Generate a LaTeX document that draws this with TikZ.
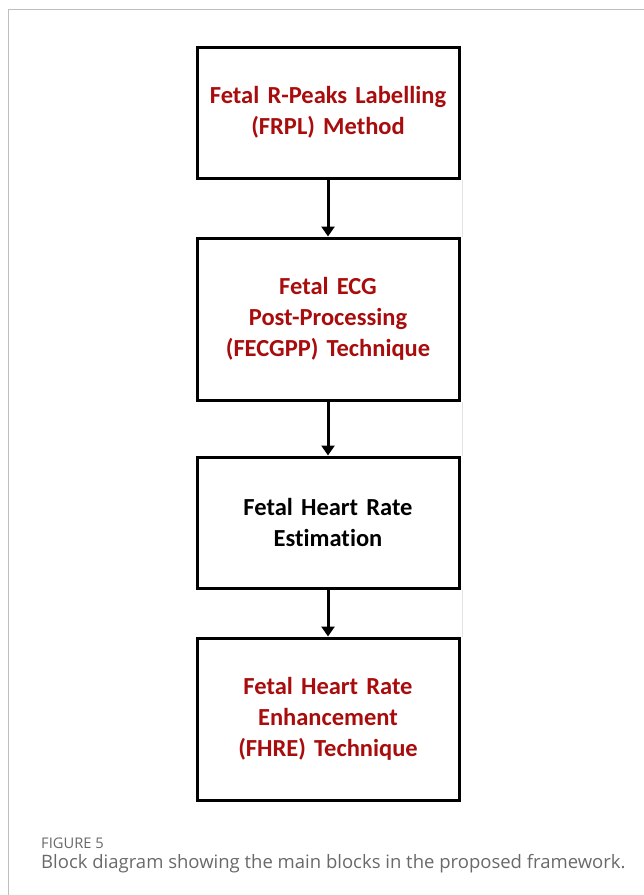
\documentclass[tikz,border=0pt]{standalone}
\usepackage{fontspec}
\usepackage{tikz}
\usetikzlibrary{arrows.meta,positioning}
\usepackage{xcolor}
\newfontfamily\boxfont{Carlito}[Ligatures={NoCommon}]
\newfontfamily\capfont{Open Sans}
\definecolor{darkred}{RGB}{168,12,12}
\definecolor{capgray}{RGB}{105,105,105}
\definecolor{framegray}{RGB}{190,190,190}

\begin{document}
\begin{tikzpicture}[x=1pt, y=-1pt,
        block/.style={rectangle, draw=black, line width=3pt, fill=white, minimum width=262pt, text width=250pt, align=center, font=\boxfont\bfseries\fontsize{24.5}{31}\selectfont, inner sep=0pt},
        short/.style={block, minimum height=131pt},
        tall/.style={block, minimum height=162pt},
        arrow/.style={line width=3pt, -{Triangle[width=13pt,length=10pt]}, draw=black},
        caption/.style={anchor=base west, inner sep=0pt, text=capgray, font=\capfont}
    ]

    % page area and the light frame of the figure
    \useasboundingbox (0,0) rectangle (644,895);
    \draw[framegray, line width=1pt] (8,895) -- (8,9) -- (644,9);

    % the four blocks
    \node[short, text=darkred] (frpl) at (328,112.5) {Fetal R-Peaks Labelling\\(FRPL) Method};
    \node[tall, text=darkred] (fecgpp) at (328,319) {Fetal ECG\\Post-Processing\\(FECGPP) Technique};
    \node[short, text=black] (fhr) at (328,522.5) {Fetal Heart Rate\\Estimation};
    \node[tall, text=darkred] (fhre) at (328,719) {Fetal Heart Rate\\Enhancement\\(FHRE) Technique};

    % faint edge line between the blocks
    \foreach \a/\b in {frpl/fecgpp, fecgpp/fhr, fhr/fhre}
        \draw[gray!22, line width=1pt] ([xshift=2pt]\a.south east) -- ([xshift=2pt]\b.north east);

    % arrows
    \draw[arrow] (frpl) -- (fecgpp);
    \draw[arrow] (fecgpp) -- (fhr);
    \draw[arrow] (fhr) -- (fhre);

    % caption
    \node[caption, font=\capfont\fontsize{14.7}{17}\selectfont] (figno) at (41,848) {FIGURE 5};
    \node[caption, font=\capfont\fontsize{18.5}{21}\selectfont] (captext) at (41,868) {Block diagram showing the main blocks in the proposed framework.};

\end{tikzpicture}
\end{document}
